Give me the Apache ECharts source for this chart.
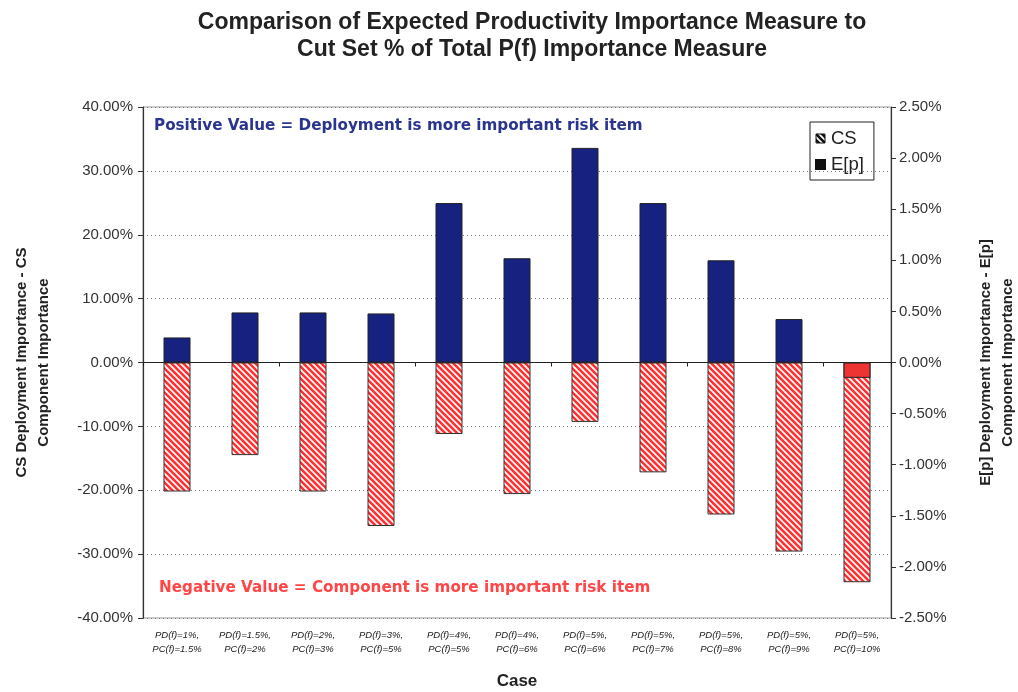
<!DOCTYPE html>
<html><head><meta charset="utf-8">
<script src="https://cdn.jsdelivr.net/npm/echarts@6/dist/echarts.min.js"></script>
<style>html,body{margin:0;padding:0;background:#fff}#c{width:1018px;height:692px}</style>
</head><body><div id="c"></div>
<script>
const categories = ['PD(f)=1%,\nPC(f)=1.5%','PD(f)=1.5%,\nPC(f)=2%','PD(f)=2%,\nPC(f)=3%','PD(f)=3%,\nPC(f)=5%','PD(f)=4%,\nPC(f)=5%','PD(f)=4%,\nPC(f)=6%','PD(f)=5%,\nPC(f)=6%','PD(f)=5%,\nPC(f)=7%','PD(f)=5%,\nPC(f)=8%','PD(f)=5%,\nPC(f)=9%','PD(f)=5%,\nPC(f)=10%'];
const csValues = [-20.2,-14.5,-20.2,-25.6,-11.2,-20.6,-9.3,-17.2,-23.8,-29.6,-34.4];
const epValues = [0.245,0.49,0.49,0.48,1.56,1.02,2.10,1.56,1.0,0.425,-0.15];
const leftTicks = {min:-40,max:40,interval:10};
const rightTicks = {min:-2.5,max:2.5,interval:0.5};

function hatch(color){
  const s=6, c=document.createElement('canvas'); c.width=s; c.height=s;
  const g=c.getContext('2d'); g.fillStyle='#fff'; g.fillRect(0,0,s,s);
  g.strokeStyle=color; g.lineWidth=2.6; g.lineCap='square';
  g.beginPath();
  g.moveTo(-2,-2); g.lineTo(s+2,s+2);
  g.moveTo(-2,s-2); g.lineTo(2,s+2);
  g.moveTo(s-2,-2); g.lineTo(s+2,2);
  g.stroke(); return c;
}
const redHatch = {image: hatch('#ff3030'), repeat:'repeat'};
const blackHatch = {image: hatch('#111'), repeat:'repeat'};
const BLUE='#162180', RED='#ee3333';

const chart = echarts.init(document.getElementById('c'));
chart.setOption({
  animation:false,
  backgroundColor:'#fff',
  title:{text:'Comparison of Expected Productivity Importance Measure to\nCut Set % of Total P(f) Importance Measure',
    left:527, textAlign:'center', top:4,
    textStyle:{fontFamily:'Liberation Sans',fontWeight:'bold',fontSize:23,lineHeight:27,color:'#222'}},
  legend:{orient:'vertical', left:810, top:122, padding:[7,10,6,5], itemGap:7,
    borderColor:'#222', borderWidth:1, itemWidth:9, itemHeight:9,
    textStyle:{fontFamily:'Liberation Sans',fontSize:18.5,color:'#222',padding:[0,0,0,1]},
    data:[{name:'CS',icon:'rect',itemStyle:{color:blackHatch,borderColor:'#111',borderWidth:1}},
          {name:'E[p]',icon:'rect',itemStyle:{color:'#111',borderColor:'#111'}}]},
  grid:{left:143,right:127,top:107,bottom:74,outerBoundsMode:'none',containLabel:false,show:true,borderColor:'#999',borderWidth:1,backgroundColor:'transparent'},
  xAxis:[
    {type:'category',data:categories,position:'bottom',axisLine:{show:false,onZero:false},axisTick:{show:false},
     name:'Case',nameLocation:'middle',nameGap:55,
     nameTextStyle:{fontFamily:'Liberation Sans',fontWeight:'bold',fontSize:17,color:'#222'},
     axisLabel:{interval:0,margin:10,fontFamily:'Liberation Sans',fontStyle:'italic',fontSize:9.5,lineHeight:14,color:'#222'}},
    {type:'category',data:categories,position:'top',axisLine:{show:true,onZero:true,onZeroAxisIndex:0,lineStyle:{color:'#222',width:1.2}},
     axisTick:{show:true,inside:true,length:4,lineStyle:{color:'#222'}},axisLabel:{show:false}}
  ],
  yAxis:[
    {type:'value',min:leftTicks.min,max:leftTicks.max,interval:leftTicks.interval,position:'left',
     axisLine:{show:true,onZero:false,lineStyle:{color:'#333',width:1.2}},axisTick:{show:true,length:5,lineStyle:{color:'#333'}},
     splitLine:{show:true,lineStyle:{color:'#777',type:[1,3],width:1}},
     axisLabel:{formatter:v=>v.toFixed(2)+'%',fontFamily:'Liberation Sans',fontSize:15,color:'#333',margin:10},
     name:'CS Deployment Importance - CS\nComponent Importance',nameLocation:'middle',nameGap:88,nameRotate:90,
     nameTextStyle:{fontFamily:'Liberation Sans',fontWeight:'bold',fontSize:15,lineHeight:22,color:'#222'}},
    {type:'value',min:rightTicks.min,max:rightTicks.max,interval:rightTicks.interval,position:'right',
     axisLine:{show:true,onZero:false,lineStyle:{color:'#333',width:1.2}},axisTick:{show:true,length:5,lineStyle:{color:'#333'}},
     splitLine:{show:false},
     axisLabel:{formatter:v=>v.toFixed(2)+'%',fontFamily:'Liberation Sans',fontSize:15,color:'#333',margin:8},
     name:'E[p] Deployment Importance - E[p]\nComponent Importance',nameLocation:'middle',nameGap:84,nameRotate:90,
     nameTextStyle:{fontFamily:'Liberation Sans',fontWeight:'bold',fontSize:15,lineHeight:22,color:'#222'}}
  ],
  series:[
    {name:'CS',type:'bar',xAxisIndex:0,yAxisIndex:0,data:csValues,barWidth:27,barGap:'-100%',
     itemStyle:{color:redHatch,borderColor:'#333',borderWidth:1},z:2},
    {name:'E[p]',type:'bar',xAxisIndex:0,yAxisIndex:1,barWidth:27,barGap:'-100%',z:3,
     data:epValues.map(v=>({value:v,itemStyle:{color:v>=0?BLUE:RED}})),
     itemStyle:{borderColor:'#222',borderWidth:1}}
  ],
  graphic:[
    {type:'text',left:154,top:119,style:{text:'Positive Value = Deployment is more important risk item',
      fontFamily:'DejaVu Sans',fontWeight:'bold',fontSize:15.2,fill:'#2a3590'}},
    {type:'text',left:159,top:581,style:{text:'Negative Value = Component is more important risk item',
      fontFamily:'DejaVu Sans',fontWeight:'bold',fontSize:15.2,fill:'#ff4545'}}
  ]
});
</script></body></html>
